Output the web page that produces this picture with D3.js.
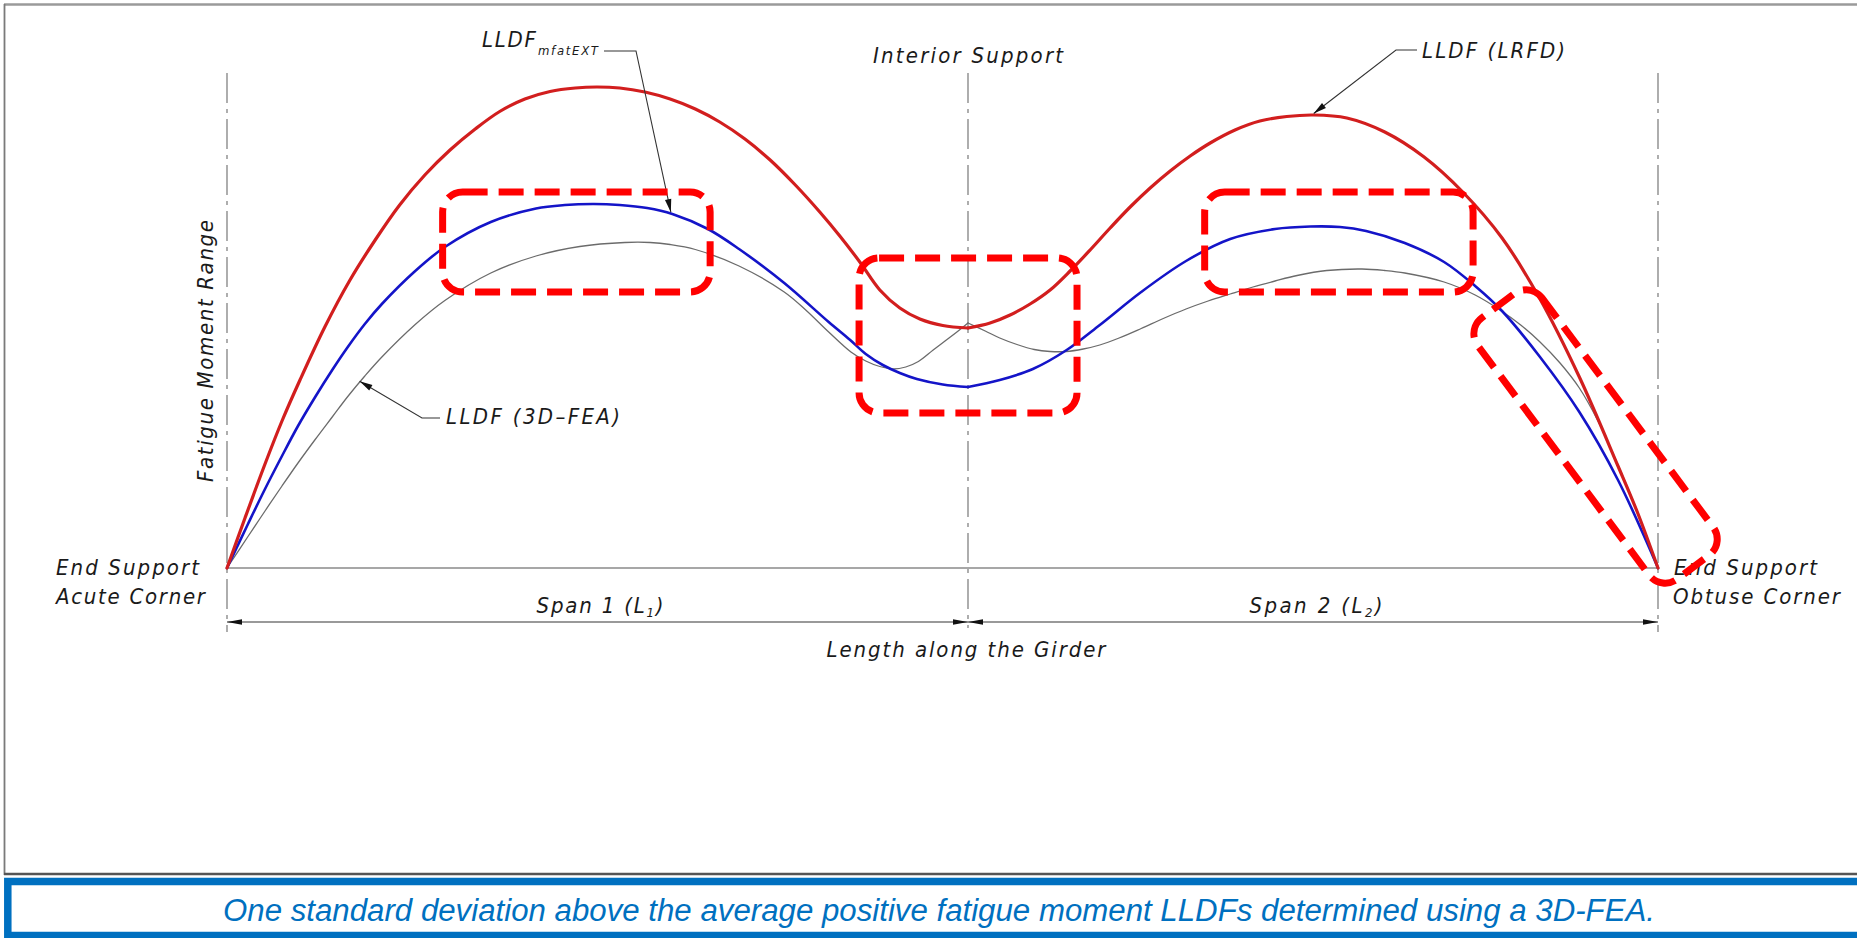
<!DOCTYPE html>
<html><head><meta charset="utf-8">
<script src="https://cdn.jsdelivr.net/npm/d3@7"></script>
<style>
html,body{margin:0;padding:0;background:#fff;overflow:hidden;}
svg{display:block;}
.cad{font-family:"DejaVu Sans Condensed","DejaVu Sans",sans-serif;font-style:italic;fill:#1a1a1a;}
</style></head><body>
<svg id="chart" width="1857" height="938"></svg>
<script>
// ---------- DATA ----------
// Position along the girder: span 1 = 0..100, span 2 = 100..200
const supportPos = [0, 100, 200];
// LLDF (LRFD) – red
const lrfdPos = [0,2.43,5.13,7.42,9.85,13.2,16.6,20.0,23.3,26.7,30.1,33.5,36.8,40.2,43.6,47.0,49.9,53.0,56.4,59.8,63.2,66.5,69.9,73.3,76.7,80.0,82.7,85.4,88.1,90.8,93.5,96.6,100,
  103.2,106.1,109.0,111.9,114.8,117.7,120.6,123.5,126.4,129.3,132.2,135.1,138.7,142.3,146.2,150.1,154.9,160.4,166.1,171.7,177.4,182.9,188.6,194.2,197.0,200];
const lrfdVal = [0,10.0,20.8,29.4,37.6,48.2,57.6,65.6,72.6,78.6,83.6,87.8,91.3,93.8,95.3,96.0,96.2,96.0,95.2,93.8,91.8,89.2,85.8,81.6,76.6,71.2,66.4,61.2,55.6,52.0,49.8,48.5,48.0,
  49.0,50.6,52.8,55.6,59.4,63.6,68.0,72.2,76.0,79.4,82.4,85.0,87.6,89.4,90.3,90.6,90.0,87.2,82.2,75.2,66.0,53.8,38.2,20.4,11.2,0];
// LLDF mfatEXT – blue
const mfatPos = [0,2.83,5.13,7.42,9.58,11.9,14.2,16.3,18.6,20.9,25.4,29.4,35.6,41.7,45.6,49.5,53.0,56.7,60.1,64.9,69.1,75.2,81.2,84.1,86.2,88.5,90.8,93.1,96.6,100,
  104.6,109.4,114.3,119.1,125.1,131.6,138.0,144.5,149.6,153.9,157.7,163.3,169.0,173.5,177.4,182.9,188.6,194.2,200];
const mfatVal = [0,8.8,15.8,22.4,28.4,34.2,39.6,44.2,48.8,52.8,59.4,64.2,69.2,71.9,72.6,72.8,72.6,72.0,70.8,67.8,63.8,57.0,49.2,45.6,42.8,40.6,39.0,37.8,36.7,36.2,
  37.6,39.8,43.6,48.6,55.2,61.4,65.8,67.8,68.3,68.2,67.4,65.0,61.2,56.4,51.4,42.2,31.2,17.6,0];
// LLDF (3D-FEA) – grey
const feaPos = [0,2.83,5.13,7.42,9.58,11.9,14.2,16.3,18.6,20.9,25.4,29.4,35.6,41.7,47.6,53.7,57.1,59.8,63.2,69.1,75.2,78.1,81.2,84.2,86.2,88.1,89.9,91.6,93.3,95.3,96.9,98.5,100,
  102.5,104.6,107.1,109.6,111.9,114.2,116.7,119.1,121.9,125.1,128.3,131.6,134.8,138.0,141.3,144.5,147.7,152.0,157.1,160.4,163.3,169.0,173.5,177.1,180.1,182.9,185.8,188.6,191.3,194.2,197.1,200];
const feaVal = [0,6.3,11.4,16.4,21.0,25.7,30.2,34.3,38.4,42.2,48.7,53.5,59.0,62.4,64.3,65.1,65.1,64.7,63.7,60.4,55.2,51.6,47.2,43.2,41.4,40.3,39.8,40.2,41.3,43.6,45.4,47.2,49.0,
  47.4,46.0,44.7,43.7,43.3,43.3,43.8,44.6,46.0,47.9,49.9,51.8,53.4,54.8,56.2,57.4,58.5,59.5,59.8,59.5,59.0,57.2,54.6,51.6,48.6,45.2,41.0,36.0,29.4,20.6,11.0,0];
// highlighted regions (dashed boxes) in data units
const boxX0 = [29.1, 85.3, 134.3];
const boxX1 = [65.2, 115.8, 173.2];
const boxY0 = [55.2, 31.0, 55.2];
const boxY1 = [75.2, 62.0, 75.2];
// diagonal box: centre-line end points (data units)
const diagFrom = [176.5, 53.0];
const diagTo = [205.4, -0.4];
// texts
const interiorLabel = "Interior Support";
const leftEndLabels = ["End Support", "Acute Corner"];
const rightEndLabels = ["End Support", "Obtuse Corner"];
const spanLabels = ["Span 1 (L", "Span 2 (L"];
const spanSubs = ["1", "2"];
const xTitle = "Length along the Girder";
const yTitle = "Fatigue Moment Range";
const caption = "One standard deviation above the average positive fatigue moment LLDFs determined using a 3D-FEA.";

// ---------- SCALES ----------
const x = d3.scaleLinear().domain(supportPos).range([227, 968, 1658]);
const y = d3.scaleLinear().domain([0, 100]).range([568, 68]);

const svg = d3.select("#chart");

// frame
svg.append("line").attr("x1",4).attr("x2",1857).attr("y1",4.5).attr("y2",4.5).attr("stroke","#9a9a9a").attr("stroke-width",2.5);
svg.append("line").attr("x1",4.5).attr("x2",4.5).attr("y1",4).attr("y2",875).attr("stroke","#7a7a7a").attr("stroke-width",1.8);
svg.append("line").attr("x1",4).attr("x2",1857).attr("y1",874).attr("y2",874).attr("stroke","#555").attr("stroke-width",2.5);
// caption box
svg.append("rect").attr("x",7.8).attr("y",881.5).attr("width",1900).attr("height",54)
  .attr("fill","#fff").attr("stroke","#0070C0").attr("stroke-width",7.5);
svg.append("text").attr("x",939).attr("y",921).attr("text-anchor","middle")
  .attr("font-family","'Liberation Sans',Arial,sans-serif").attr("font-style","italic")
  .attr("font-size",31).attr("fill","#0070C0").attr("textLength",1432).attr("lengthAdjust","spacingAndGlyphs")
  .text(caption);

// centre lines at supports
svg.selectAll(".cl").data(supportPos).enter().append("line")
  .attr("x1",d=>x(d)).attr("x2",d=>x(d)).attr("y1",73).attr("y2",d=>d===100?628:632)
  .attr("stroke","#8c8c8c").attr("stroke-width",1.4).attr("stroke-dasharray","30,6,4,6");

// baseline
svg.append("line").attr("x1",x(0)).attr("x2",x(200)).attr("y1",y(0)).attr("y2",y(0))
  .attr("stroke","#8a8a8a").attr("stroke-width",1.6);

// dimension line
const dimY = 622;
svg.append("line").attr("x1",x(0)).attr("x2",x(200)).attr("y1",dimY).attr("y2",dimY)
  .attr("stroke","#777").attr("stroke-width",1.3);
function arrowHead(tip, from, len, hw, col){
  const dx = tip[0]-from[0], dy = tip[1]-from[1];
  const d = Math.hypot(dx,dy), ux = dx/d, uy = dy/d;
  const bx = tip[0]-ux*len, by = tip[1]-uy*len;
  svg.append("path").attr("d",`M${tip[0]},${tip[1]}L${bx-uy*hw},${by+ux*hw}L${bx+uy*hw},${by-ux*hw}Z`).attr("fill",col||"#111");
}
arrowHead([x(0),dimY],[x(0)+50,dimY],15,2.8);
arrowHead([x(100),dimY],[x(100)-50,dimY],15,2.8);
arrowHead([x(100),dimY],[x(100)+50,dimY],15,2.8);
arrowHead([x(200),dimY],[x(200)-50,dimY],15,2.8);

// curves: each span drawn separately (kink at the interior support)
const line = d3.line().x(d=>x(d[0])).y(d=>y(d[1])).curve(d3.curveCatmullRom.alpha(0.5));
function drawSeries(pos, val, col, w){
  const pts = pos.map((p,i)=>[p,val[i]]);
  [pts.filter(d=>d[0]<=100), pts.filter(d=>d[0]>=100)].forEach(seg=>{
    svg.append("path").attr("d",line(seg)).attr("fill","none").attr("stroke",col)
      .attr("stroke-width",w).attr("stroke-linejoin","round").attr("stroke-linecap","round");
  });
}
drawSeries(feaPos, feaVal, "#6b6b6b", 1.3);
drawSeries(mfatPos, mfatVal, "#1414c8", 2.6);
drawSeries(lrfdPos, lrfdVal, "#d21e1e", 3.2);

function interp(pos,val,p){
  for(let i=1;i<pos.length;i++){ if(pos[i]>=p){ const t=(p-pos[i-1])/(pos[i]-pos[i-1]); return val[i-1]+t*(val[i]-val[i-1]); } }
  return val[val.length-1];
}

// text helper
function label(txt, xx, yy, w, anchor, size){
  return svg.append("text").attr("class","cad").attr("x",xx).attr("y",yy)
    .attr("font-size",size||22).attr("text-anchor",anchor||"start")
    .attr("textLength",w).attr("lengthAdjust","spacing").text(txt);
}
label(interiorLabel, x(100), 63, 190, "middle");
label(leftEndLabels[0], 56, 575, 143);
label(leftEndLabels[1], 56, 604, 149);
label(rightEndLabels[0], 1674, 575, 143);
label(rightEndLabels[1], 1673, 604, 167);
label(xTitle, 966, 657, 279, "middle");
svg.append("text").attr("class","cad").attr("transform","translate(213,351) rotate(-90)")
  .attr("font-size",22).attr("text-anchor","middle").attr("textLength",262).attr("lengthAdjust","spacing").text(yTitle);

// span labels with subscripts
const spanCx = [600, 1316], spanW = [127, 133];
spanLabels.forEach((s,i)=>{
  const t = svg.append("text").attr("class","cad").attr("x",spanCx[i]).attr("y",613)
    .attr("font-size",22).attr("text-anchor","middle").attr("textLength",spanW[i]).attr("lengthAdjust","spacing");
  t.append("tspan").text(s);
  t.append("tspan").attr("font-size",13).attr("dy",4).text(spanSubs[i]);
  t.append("tspan").attr("dy",-4).text(")");
});

// leaders
function leader(pts, col){
  svg.append("path").attr("d","M"+pts.map(p=>p.join(",")).join("L")).attr("fill","none")
    .attr("stroke",col||"#333").attr("stroke-width",1.1);
  arrowHead(pts[pts.length-1], pts[pts.length-2], 13, 3.2);
}
// LLDF (LRFD)
label("LLDF (LRFD)", 1422, 58, 143);
const tipL = [x(150.1), y(interp(lrfdPos,lrfdVal,150.1))-1.5];
leader([[1417,50],[1396,50],tipL]);
// LLDF mfatEXT
label("LLDF", 482, 47, 54);
label("mfatEXT", 538, 55, 60, "start", 13);
const tipM = [x(59.9), y(interp(mfatPos,mfatVal,59.9))-1.5];
leader([[604,51],[636,51],tipM]);
// LLDF (3D-FEA)
label("LLDF (3D–FEA)", 446, 424, 174);
const tipF = [x(17.9), y(interp(feaPos,feaVal,17.9))-1];
leader([[440,418],[422,418],tipF]);

// dashed highlight boxes
const boxStyle = sel => sel.attr("fill","none").attr("stroke","#ff0000").attr("stroke-width",7)
  .attr("stroke-dasharray","25,11").attr("rx",20).attr("ry",20);
boxX0.forEach((b,i)=>{
  svg.append("rect").attr("x",x(boxX0[i])).attr("y",y(boxY1[i]))
    .attr("width",x(boxX1[i])-x(boxX0[i])).attr("height",y(boxY0[i])-y(boxY1[i])).call(boxStyle);
});
{
  const p0=[x(diagFrom[0]),y(diagFrom[1])], p1=[x(diagTo[0]),y(diagTo[1])];
  const L = Math.hypot(p1[0]-p0[0],p1[1]-p0[1])-7, W = 80;
  const ang = Math.atan2(p1[1]-p0[1],p1[0]-p0[0])*180/Math.PI;
  svg.append("rect").attr("x",-L/2).attr("y",-W/2).attr("width",L).attr("height",W)
    .attr("transform",`translate(${(p0[0]+p1[0])/2},${(p0[1]+p1[1])/2}) rotate(${ang})`).call(boxStyle);
}
</script>
</body></html>
